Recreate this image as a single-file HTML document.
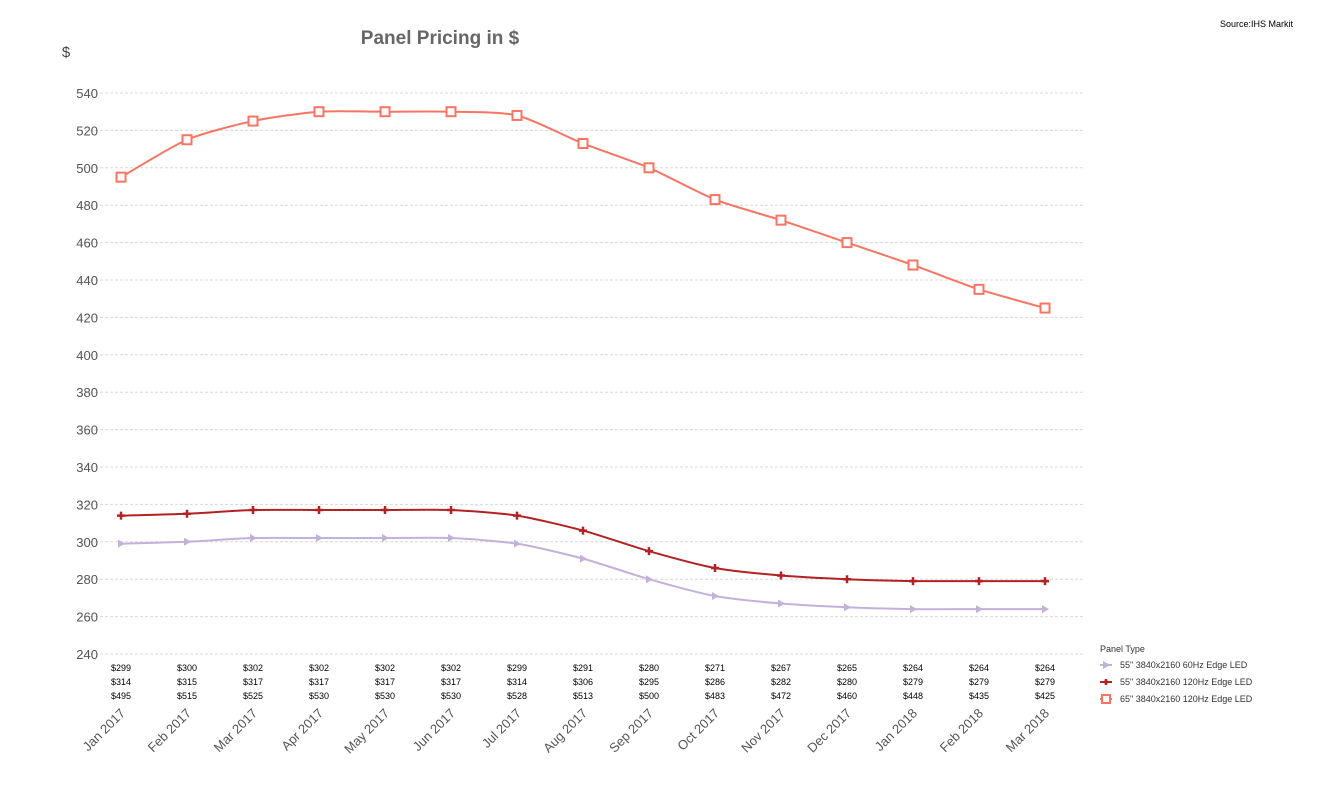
<!DOCTYPE html>
<html><head><meta charset="utf-8"><style>
body{margin:0;background:#fff;font-family:"Liberation Sans",sans-serif}
svg{display:block}
</style></head><body>
<svg id="c" width="1317" height="810" xmlns="http://www.w3.org/2000/svg">
<text x="440" y="44" text-anchor="middle" font-size="19" font-weight="bold" fill="#666">Panel Pricing in $</text>
<text x="1293" y="27" text-anchor="end" font-size="9" fill="#000">Source:IHS Markit</text>
<text x="66" y="57" text-anchor="middle" font-size="15" fill="#444">$</text>
<g id="grid"></g><g id="series"></g><g id="table"></g><g id="xl"></g>
<g font-size="9" fill="#333">
<text x="1100" y="652" font-size="9">Panel Type</text>
<g><line x1="1100" y1="665" x2="1112" y2="665" stroke="#c3b1d9" stroke-width="2"/><path d="M1103,661 L1110,665 L1103,669Z" fill="#c3b1d9"/><text x="1120" y="668">55" 3840x2160 60Hz Edge LED</text></g>
<g><line x1="1100" y1="682" x2="1112" y2="682" stroke="#b22222" stroke-width="2"/><path d="M1104,682h4M1106,679v6" stroke="#b22222" stroke-width="2.5"/><text x="1120" y="685">55" 3840x2160 120Hz Edge LED</text></g>
<g><line x1="1100" y1="699" x2="1112" y2="699" stroke="#f87463" stroke-width="2"/><rect x="1102" y="695" width="8" height="8" fill="#fff" stroke="#f87463" stroke-width="2"/><text x="1120" y="702">65" 3840x2160 120Hz Edge LED</text></g>
</g>
</svg>
<script>
const categories=["Jan 2017","Feb 2017","Mar 2017","Apr 2017","May 2017","Jun 2017","Jul 2017","Aug 2017","Sep 2017","Oct 2017","Nov 2017","Dec 2017","Jan 2018","Feb 2018","Mar 2018"];
const s55_60=[299,300,302,302,302,302,299,291,280,271,267,265,264,264,264];
const s55_120=[314,315,317,317,317,317,314,306,295,286,282,280,279,279,279];
const s65_120=[495,515,525,530,530,530,528,513,500,483,472,460,448,435,425];
const yTicks=[240,260,280,300,320,340,360,380,400,420,440,460,480,500,520,540];
const NS="http://www.w3.org/2000/svg";
const X=i=>121+i*66, Y=v=>654-(v-240)*561/300;
function mk(t,a,p){const e=document.createElementNS(NS,t);for(const k in a)e.setAttribute(k,a[k]);p.appendChild(e);return e;}
const grid=document.getElementById('grid');
yTicks.forEach(v=>{
 const l=mk('line',{x1:80,x2:1083,y1:Y(v),y2:Y(v),stroke:'#d8d8d8','stroke-dasharray':'3,2'},grid);
 
 
 const t=mk('text',{x:98,y:Y(v)+5,'text-anchor':'end','font-size':13,fill:'#555'},grid);t.textContent=v;
 
 
});
function path(vals){const p=vals.map((v,i)=>[X(i),Y(v)]);let d='M'+p[0];const k=0.12;
 for(let i=0;i<p.length-1;i++){const a=p[i-1]||p[i],b=p[i],c=p[i+1],e=p[i+2]||c;
  d+=` C${b[0]+(c[0]-a[0])*k},${b[1]+(c[1]-a[1])*k} ${c[0]-(e[0]-b[0])*k},${c[1]-(e[1]-b[1])*k} ${c[0]},${c[1]}`;}return d;}
const sg=document.getElementById('series');
[[s55_60,'#c3b1d9','tri','series-55-60hz'],[s55_120,'#b22222','plus','series-55-120hz'],[s65_120,'#f87463','sq','series-65-120hz']].forEach(([vals,col,m,name])=>{
 const g=mk('g',{},sg);
 mk('path',{d:path(vals),fill:'none',stroke:col,'stroke-width':2},g);
 vals.forEach((v,i)=>{const x=X(i),y=Y(v);let e;
  if(m==='tri')e=mk('path',{d:`M${x-3},${y-4} L${x+4},${y} L${x-3},${y+4}Z`,fill:col},g);
  else if(m==='plus')e=mk('path',{d:`M${x-4},${y}h8M${x},${y-4}v8`,stroke:col,'stroke-width':2.5},g);
  else e=mk('rect',{x:x-4.5,y:y-4.5,width:9,height:9,fill:'#fff',stroke:col,'stroke-width':2},g);
  
  });
});
const tb=document.getElementById('table'),xl=document.getElementById('xl');
categories.forEach((c,i)=>{
 [s55_60,s55_120,s65_120].forEach((s,r)=>{const t=mk('text',{x:X(i),y:671+r*14,'text-anchor':'middle','font-size':9,fill:'#000'},tb);t.textContent='$'+s[i];
  
  });
 const t=mk('text',{x:X(i)+5,y:714,'text-anchor':'end','font-size':13,fill:'#555',transform:`rotate(-45 ${X(i)+5} 714)`},xl);t.textContent=c;
 
 
});
</script>
</body></html>
